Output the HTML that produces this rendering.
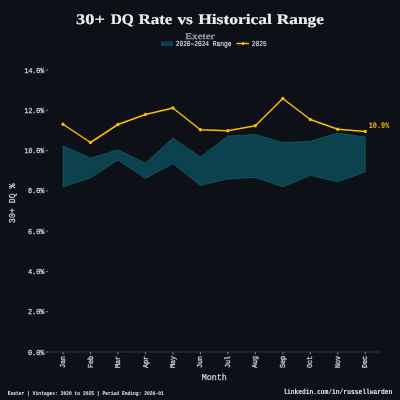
<!DOCTYPE html>
<html><head><meta charset="utf-8"><style>
html,body{margin:0;padding:0;background:#0d1117;width:400px;height:400px;overflow:hidden}
svg{display:block;will-change:transform}
text{font-family:"Liberation Mono",monospace;text-rendering:geometricPrecision}
.tk{fill:#d0d4d8;stroke:#d0d4d8;stroke-width:0.25px}
.ann{fill:#fcbd00;font-weight:bold}
.title{font-family:"Liberation Serif",serif;font-weight:bold;fill:#f0f0f0;stroke:#f0f0f0;stroke-width:0.18px}
.sub{font-family:"Liberation Serif",serif;fill:#9ba1a8;stroke:#9ba1a8;stroke-width:0.3px}
.leg{fill:#d0d4d8;stroke:#d0d4d8;stroke-width:0.2px}
.axl{fill:#d0d4d8;stroke:#d0d4d8;stroke-width:0.25px}
.foot{fill:#e6edf3;font-weight:bold}
.foot2{fill:#e6edf3;font-weight:bold}

</style></head><body>
<svg width="400" height="400" viewBox="0 0 400 400">
<rect x="0" y="0" width="400" height="400" fill="#0d1117"/>
<line x1="48" y1="311.71" x2="380.4" y2="311.71" stroke="#30363d" stroke-opacity="0.06" stroke-width="1"/>
<line x1="48" y1="271.43" x2="380.4" y2="271.43" stroke="#30363d" stroke-opacity="0.06" stroke-width="1"/>
<line x1="48" y1="231.14" x2="380.4" y2="231.14" stroke="#30363d" stroke-opacity="0.06" stroke-width="1"/>
<line x1="48" y1="190.86" x2="380.4" y2="190.86" stroke="#30363d" stroke-opacity="0.06" stroke-width="1"/>
<line x1="48" y1="150.57" x2="380.4" y2="150.57" stroke="#30363d" stroke-opacity="0.06" stroke-width="1"/>
<line x1="48" y1="110.29" x2="380.4" y2="110.29" stroke="#30363d" stroke-opacity="0.06" stroke-width="1"/>
<line x1="48" y1="70.00" x2="380.4" y2="70.00" stroke="#30363d" stroke-opacity="0.06" stroke-width="1"/>
<polygon points="63.0,145.75 90.48,158 117.95,149.75 145.43,162.9 172.91,138 200.38,156.9 227.86,136 255.34,134.5 282.82,142.5 310.29,141.2 337.77,133 365.25,137 365.25,172 337.77,181.75 310.29,175.5 282.82,187 255.34,177.5 227.86,179 200.38,185.4 172.91,163.75 145.43,178.5 117.95,160.0 90.48,178 63.0,187" fill="#0b424e" stroke="rgba(23,190,207,0.28)" stroke-width="0.9" stroke-linejoin="miter"/>
<line x1="48" y1="352" x2="380.4" y2="352" stroke="#2d3239" stroke-width="1.1"/>
<line x1="45.75" y1="352.00" x2="48.25" y2="352.00" stroke="#8a8f96" stroke-width="0.9"/>
<text x="27.89" y="354.62" class="tk" textLength="16.54" lengthAdjust="spacingAndGlyphs" style="font-size:7.6px">0.0%</text>
<line x1="45.75" y1="311.71" x2="48.25" y2="311.71" stroke="#8a8f96" stroke-width="0.9"/>
<text x="27.89" y="314.33" class="tk" textLength="16.54" lengthAdjust="spacingAndGlyphs" style="font-size:7.6px">2.0%</text>
<line x1="45.75" y1="271.43" x2="48.25" y2="271.43" stroke="#8a8f96" stroke-width="0.9"/>
<text x="27.89" y="274.05" class="tk" textLength="16.54" lengthAdjust="spacingAndGlyphs" style="font-size:7.6px">4.0%</text>
<line x1="45.75" y1="231.14" x2="48.25" y2="231.14" stroke="#8a8f96" stroke-width="0.9"/>
<text x="27.89" y="233.76" class="tk" textLength="16.54" lengthAdjust="spacingAndGlyphs" style="font-size:7.6px">6.0%</text>
<line x1="45.75" y1="190.86" x2="48.25" y2="190.86" stroke="#8a8f96" stroke-width="0.9"/>
<text x="27.89" y="193.48" class="tk" textLength="16.54" lengthAdjust="spacingAndGlyphs" style="font-size:7.6px">8.0%</text>
<line x1="45.75" y1="150.57" x2="48.25" y2="150.57" stroke="#8a8f96" stroke-width="0.9"/>
<text x="24.45" y="153.43" class="tk" textLength="19.79" lengthAdjust="spacingAndGlyphs" style="font-size:7.6px">10.0%</text>
<line x1="45.75" y1="110.29" x2="48.25" y2="110.29" stroke="#8a8f96" stroke-width="0.9"/>
<text x="24.45" y="113.15" class="tk" textLength="19.79" lengthAdjust="spacingAndGlyphs" style="font-size:7.6px">12.0%</text>
<line x1="45.75" y1="70.00" x2="48.25" y2="70.00" stroke="#8a8f96" stroke-width="0.9"/>
<text x="24.45" y="72.86" class="tk" textLength="19.79" lengthAdjust="spacingAndGlyphs" style="font-size:7.6px">14.0%</text>
<line x1="63.0" y1="352" x2="63.0" y2="354.5" stroke="#8a8f96" stroke-width="0.9"/>
<g transform="translate(65.10,361.98) rotate(-90)"><text x="0" y="0" class="tk" text-anchor="middle" textLength="12.31" lengthAdjust="spacingAndGlyphs" style="font-size:7.6px">Jan</text></g>
<line x1="90.48" y1="352" x2="90.48" y2="354.5" stroke="#8a8f96" stroke-width="0.9"/>
<g transform="translate(92.58,361.98) rotate(-90)"><text x="0" y="0" class="tk" text-anchor="middle" textLength="12.31" lengthAdjust="spacingAndGlyphs" style="font-size:7.6px">Feb</text></g>
<line x1="117.95" y1="352" x2="117.95" y2="354.5" stroke="#8a8f96" stroke-width="0.9"/>
<g transform="translate(120.05,361.98) rotate(-90)"><text x="0" y="0" class="tk" text-anchor="middle" textLength="12.31" lengthAdjust="spacingAndGlyphs" style="font-size:7.6px">Mar</text></g>
<line x1="145.43" y1="352" x2="145.43" y2="354.5" stroke="#8a8f96" stroke-width="0.9"/>
<g transform="translate(147.53,361.98) rotate(-90)"><text x="0" y="0" class="tk" text-anchor="middle" textLength="12.31" lengthAdjust="spacingAndGlyphs" style="font-size:7.6px">Apr</text></g>
<line x1="172.91" y1="352" x2="172.91" y2="354.5" stroke="#8a8f96" stroke-width="0.9"/>
<g transform="translate(175.01,361.98) rotate(-90)"><text x="0" y="0" class="tk" text-anchor="middle" textLength="12.31" lengthAdjust="spacingAndGlyphs" style="font-size:7.6px">May</text></g>
<line x1="200.38" y1="352" x2="200.38" y2="354.5" stroke="#8a8f96" stroke-width="0.9"/>
<g transform="translate(202.48,361.98) rotate(-90)"><text x="0" y="0" class="tk" text-anchor="middle" textLength="12.31" lengthAdjust="spacingAndGlyphs" style="font-size:7.6px">Jun</text></g>
<line x1="227.86" y1="352" x2="227.86" y2="354.5" stroke="#8a8f96" stroke-width="0.9"/>
<g transform="translate(229.96,361.98) rotate(-90)"><text x="0" y="0" class="tk" text-anchor="middle" textLength="12.31" lengthAdjust="spacingAndGlyphs" style="font-size:7.6px">Jul</text></g>
<line x1="255.34" y1="352" x2="255.34" y2="354.5" stroke="#8a8f96" stroke-width="0.9"/>
<g transform="translate(257.44,361.98) rotate(-90)"><text x="0" y="0" class="tk" text-anchor="middle" textLength="12.31" lengthAdjust="spacingAndGlyphs" style="font-size:7.6px">Aug</text></g>
<line x1="282.82" y1="352" x2="282.82" y2="354.5" stroke="#8a8f96" stroke-width="0.9"/>
<g transform="translate(284.92,361.98) rotate(-90)"><text x="0" y="0" class="tk" text-anchor="middle" textLength="12.31" lengthAdjust="spacingAndGlyphs" style="font-size:7.6px">Sep</text></g>
<line x1="310.29" y1="352" x2="310.29" y2="354.5" stroke="#8a8f96" stroke-width="0.9"/>
<g transform="translate(312.39,361.98) rotate(-90)"><text x="0" y="0" class="tk" text-anchor="middle" textLength="12.31" lengthAdjust="spacingAndGlyphs" style="font-size:7.6px">Oct</text></g>
<line x1="337.77" y1="352" x2="337.77" y2="354.5" stroke="#8a8f96" stroke-width="0.9"/>
<g transform="translate(339.87,361.98) rotate(-90)"><text x="0" y="0" class="tk" text-anchor="middle" textLength="12.31" lengthAdjust="spacingAndGlyphs" style="font-size:7.6px">Nov</text></g>
<line x1="365.25" y1="352" x2="365.25" y2="354.5" stroke="#8a8f96" stroke-width="0.9"/>
<g transform="translate(367.35,361.98) rotate(-90)"><text x="0" y="0" class="tk" text-anchor="middle" textLength="12.31" lengthAdjust="spacingAndGlyphs" style="font-size:7.6px">Dec</text></g>
<polyline points="63.0,124.25 90.48,142.5 117.95,124.5 145.43,114.5 172.91,108 200.38,129.75 227.86,130.75 255.34,125.75 282.82,98.5 310.29,119.5 337.77,129.25 365.25,131.5" fill="none" stroke="#fcbd00" stroke-width="1.5" stroke-linejoin="round"/>
<circle cx="63.0" cy="124.25" r="1.65" fill="#fcbd00"/>
<circle cx="90.48" cy="142.5" r="1.65" fill="#fcbd00"/>
<circle cx="117.95" cy="124.5" r="1.65" fill="#fcbd00"/>
<circle cx="145.43" cy="114.5" r="1.65" fill="#fcbd00"/>
<circle cx="172.91" cy="108" r="1.65" fill="#fcbd00"/>
<circle cx="200.38" cy="129.75" r="1.65" fill="#fcbd00"/>
<circle cx="227.86" cy="130.75" r="1.65" fill="#fcbd00"/>
<circle cx="255.34" cy="125.75" r="1.65" fill="#fcbd00"/>
<circle cx="282.82" cy="98.5" r="1.65" fill="#fcbd00"/>
<circle cx="310.29" cy="119.5" r="1.65" fill="#fcbd00"/>
<circle cx="337.77" cy="129.25" r="1.65" fill="#fcbd00"/>
<circle cx="365.25" cy="131.5" r="1.65" fill="#fcbd00"/>
<text x="368.66" y="127.66" class="ann" textLength="20.63" lengthAdjust="spacingAndGlyphs" style="font-size:8.6px">10.9%</text>
<text x="76.01" y="24.03" class="title" textLength="28.87" lengthAdjust="spacingAndGlyphs" style="font-size:14.6px">30+</text>
<text x="110.72" y="24.03" class="title" textLength="23.11" lengthAdjust="spacingAndGlyphs" style="font-size:14.6px">DQ</text>
<text x="138.51" y="24.03" class="title" textLength="33.91" lengthAdjust="spacingAndGlyphs" style="font-size:14.6px">Rate</text>
<text x="177.46" y="24.03" class="title" textLength="15.34" lengthAdjust="spacingAndGlyphs" style="font-size:14.6px">vs</text>
<text x="198.21" y="24.03" class="title" textLength="73.63" lengthAdjust="spacingAndGlyphs" style="font-size:14.6px">Historical</text>
<text x="276.71" y="24.03" class="title" textLength="47.19" lengthAdjust="spacingAndGlyphs" style="font-size:14.6px">Range</text>
<text x="185.27" y="38.98" class="sub" textLength="29.09" lengthAdjust="spacingAndGlyphs" style="font-size:9px">Exeter</text>
<rect x="161" y="41.4" width="12" height="4.6" fill="#0b424e"/>
<text x="175.77" y="46.11" class="leg" textLength="33.26" lengthAdjust="spacingAndGlyphs" style="font-size:7.6px">2020–2024</text>
<text x="212.80" y="46.11" class="leg" textLength="18.71" lengthAdjust="spacingAndGlyphs" style="font-size:7.6px">Range</text>
<line x1="236.5" y1="43.5" x2="249" y2="43.5" stroke="#fcbd00" stroke-width="1.5"/>
<circle cx="243.2" cy="43.5" r="1.5" fill="#fcbd00"/>
<text x="251.77" y="46.11" class="leg" textLength="14.89" lengthAdjust="spacingAndGlyphs" style="font-size:7.6px">2025</text>
<g transform="translate(15.36,203.26) rotate(-90)"><text x="0" y="0" class="axl" text-anchor="middle" textLength="39.33" lengthAdjust="spacingAndGlyphs" style="font-size:9.0px">30+ DQ %</text></g>
<text x="201.68" y="380.24" class="axl" textLength="25.11" lengthAdjust="spacingAndGlyphs" style="font-size:8.9px">Month</text>
<text x="7.69" y="394.63" class="foot" textLength="156.05" lengthAdjust="spacingAndGlyphs" style="font-size:5.6px">Exeter | Vintages: 2020 to 2025 | Period Ending: 2026-01</text>
<text x="283.28" y="393.67" class="foot2" textLength="108.94" lengthAdjust="spacingAndGlyphs" style="font-size:7.4px">linkedin.com/in/russellwarden</text>
</svg>
</body></html>
